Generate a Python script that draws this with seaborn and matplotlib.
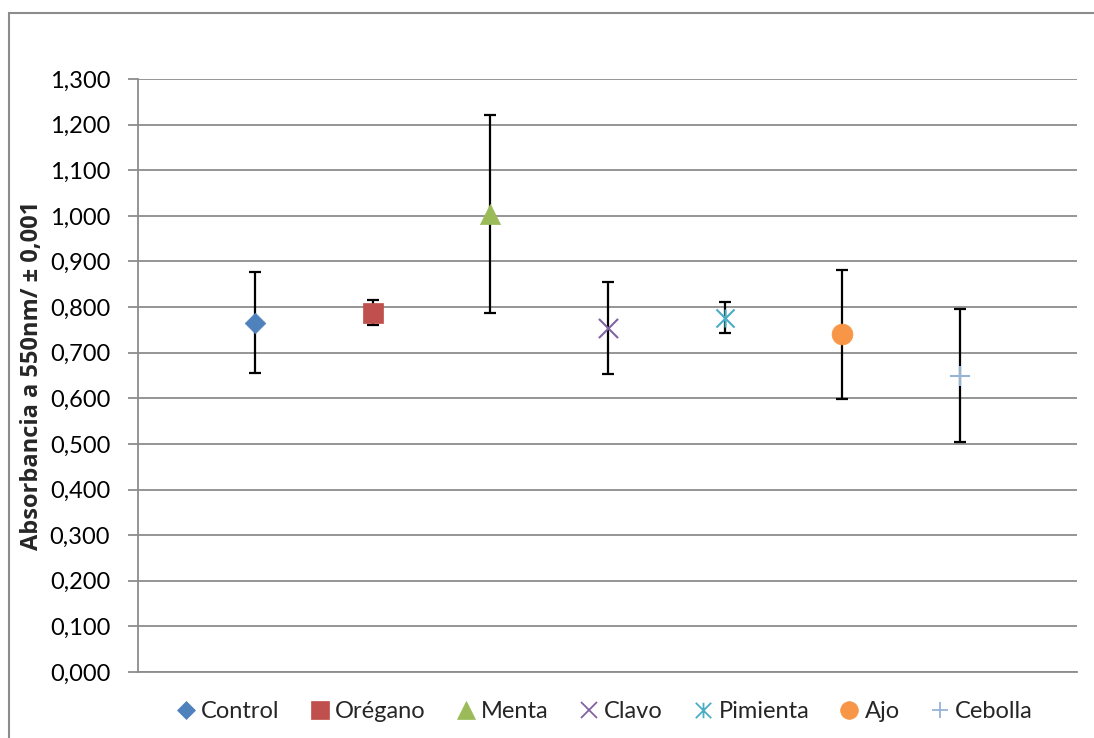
import matplotlib
matplotlib.use("Agg")
import matplotlib.pyplot as plt
import seaborn as sns
import numpy as np
import pandas as pd
from matplotlib.path import Path
from matplotlib.lines import Line2D
from matplotlib.patches import Rectangle
from matplotlib.ticker import FuncFormatter, MultipleLocator

categories = ["Control", "Orégano", "Menta", "Clavo", "Pimienta", "Ajo", "Cebolla"]
means = [0.766, 0.788, 1.005, 0.754, 0.777, 0.740, 0.650]
errors = [0.111, 0.027, 0.217, 0.101, 0.034, 0.141, 0.146]
colors = ["#4F81BD", "#C0504D", "#9BBB59", "#8064A2", "#4BACC6", "#F79646", "#95B3D7"]
ylabel = "Absorbancia a 550nm/ ± 0,001"

sns.set_style("white")
plt.rcParams["font.family"] = ["Lato", "DejaVu Sans"]

star = Path([(0, -1), (0, 1), (-1, -1), (1, 1), (-1, 1), (1, -1)],
            [Path.MOVETO, Path.LINETO, Path.MOVETO, Path.LINETO, Path.MOVETO, Path.LINETO])
markers = ["D", "s", "^", "x", star, "o", "+"]
sizes = [110, 210, 210, 190, 170, 225, 190]
filled = [True, True, True, False, False, True, False]

df = pd.DataFrame({"cat": categories, "mean": means, "err": errors})
df["pos"] = np.arange(1, len(categories) + 1)

fig = plt.figure(figsize=(10.94, 7.38), dpi=100)
ax = fig.add_axes([138 / 1094, 1 - 672 / 738, (1077 - 138) / 1094, (672 - 79) / 738])

ax.errorbar(df["pos"], df["mean"], yerr=df["err"], fmt="none", ecolor="black",
            elinewidth=1.6, capsize=4.5, capthick=1.6, zorder=2)

for i, row in df.iterrows():
    c = colors[i]
    lw = 0.5 if filled[i] else 1.5
    sns.scatterplot(x=[row["pos"]], y=[row["mean"]], marker=markers[i], s=sizes[i],
                    color=c, edgecolor=c, linewidth=lw, ax=ax, zorder=3, legend=False)

ax.set_xlim(0, 8)
ax.set_ylim(0, 1.3)
ax.yaxis.set_major_locator(MultipleLocator(0.1))
ax.yaxis.set_major_formatter(FuncFormatter(lambda v, p: f"{v:.3f}".replace(".", ",")))
ax.set_xticks([])
ax.set_xlabel("")
ax.grid(axis="y", color="#8C8C8C", linewidth=1.3)
ax.set_axisbelow(True)
for s in ["top", "right"]:
    ax.spines[s].set_visible(False)
for s in ["left", "bottom"]:
    ax.spines[s].set_color("#8C8C8C")
    ax.spines[s].set_linewidth(1.3)
ax.tick_params(axis="y", which="major", length=7, width=1.3, color="#8C8C8C",
               labelsize=17, labelcolor="black", pad=13, left=True)
ax.set_ylabel(ylabel, fontsize=17, fontweight="bold", family=["Open Sans", "DejaVu Sans"])
ax.yaxis.set_label_coords((44 - 138) / 939, 0.5)

handles = []
for i, cat in enumerate(categories):
    mew = 0.5 if filled[i] else 1.3
    h = Line2D([], [], linestyle="none", marker=markers[i], color=colors[i],
               markersize=np.sqrt(sizes[i]) * 0.85, markeredgewidth=mew)
    handles.append(h)
fig.legend(handles, categories, loc="center", bbox_to_anchor=(604 / 1094, 1 - 712 / 738),
           ncol=7, frameon=False, fontsize=17, handlelength=0.9, handletextpad=0.2,
           columnspacing=1.25, borderaxespad=0)

fig.add_artist(Rectangle((9 / 1094, -0.05), 1.0, 1 - 13 / 738 + 0.05, transform=fig.transFigure,
                         fill=False, edgecolor="#8C8C8C", linewidth=1.5, clip_on=False))

fig.savefig("out.png", dpi=100)
